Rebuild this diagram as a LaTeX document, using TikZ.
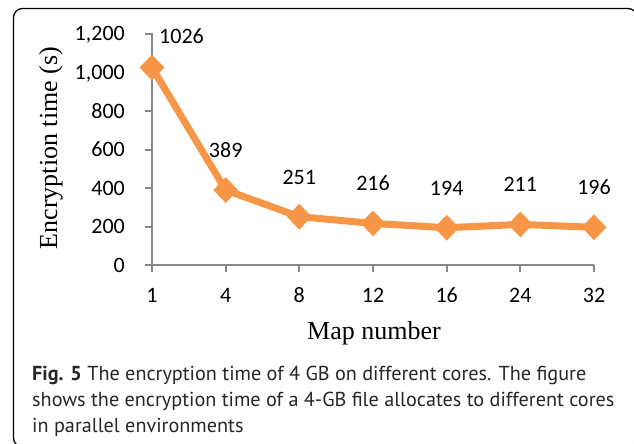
\documentclass[tikz,border=0pt]{standalone}
\usepackage{fontspec}
\setmainfont{Liberation Serif}
\newfontfamily\calib{Carlito}
\newfontfamily\capfont{PT Sans}
\usetikzlibrary{shapes.geometric}
\definecolor{serorange}{RGB}{247,150,70}
\definecolor{axgray}{RGB}{135,135,135}
\tikzset{
  axisline/.style={draw=axgray,line width=2pt},
  ticklab/.style={font=\calib\fontsize{22}{26}\selectfont,inner sep=0pt},
  datalab/.style={font=\calib\fontsize{22}{26}\selectfont,inner sep=0pt,anchor=base},
  axtitle/.style={font=\fontsize{26}{30}\selectfont,inner sep=0pt},
  mk/.style={diamond,fill=serorange,inner sep=0pt,minimum width=25pt,minimum height=26pt},
  series/.style={draw=serorange,line width=7pt,line join=round},
  caplab/.style={font=\capfont\fontsize{20.2}{24}\selectfont,inner sep=0pt,anchor=base west,text=black!85},
  frame/.style={draw=black,line width=1.3pt,rounded corners=9pt}
}
\begin{document}
\begin{tikzpicture}[x=1pt,y=-1pt]
\useasboundingbox (0,0) rectangle (634,444);
\begin{scope}
\clip (0,0) rectangle (634,444);
\draw[frame] (13.5,8.5) rectangle (637,447);
\end{scope}
% axes
\coordinate (o) at (152,265);
\coordinate (ytop) at (152,33);
\coordinate (xend) at (594,265);
\draw[axisline] (ytop) -- (o) -- (xend);
% y ticks and labels
\foreach \v/\yy/\t in {0/265/0,200/226.5/200,400/188/400,600/149.5/600,800/111/800,1000/72.5/{1,000},1200/34/{1,200}}{
  \draw[axisline] (145,\yy) -- (152,\yy);
  \node[ticklab,anchor=base east] (yl\v) at (125,\yy+7) {\t};
}
% x ticks and labels
\foreach \i/\xx/\t in {0/152/1,1/225.7/4,2/299.3/8,3/373/12,4/446.7/16,5/520.3/24,6/594/32}{
  \draw[axisline] (\xx,265) -- (\xx,272);
  \node[ticklab,anchor=base] (xl\i) at (\xx,302) {\t};
}
% data
\coordinate (c0) at (152,67.5);
\coordinate (c1) at (225.7,190.1);
\coordinate (c2) at (299.3,216.7);
\coordinate (c3) at (373,223.4);
\coordinate (c4) at (446.7,227.7);
\coordinate (c5) at (520.3,224.4);
\coordinate (c6) at (594,227.3);
\draw[series] (c0) -- (c1) -- (c2) -- (c3) -- (c4) -- (c5) -- (c6);
\foreach \k in {0,...,6}{\node[mk] (m\k) at (c\k) {};}
% data labels
\node[datalab] (d0) at (181.5,43.5) {1026};
\node[datalab] (d1) at (225.7,157.6) {389};
\node[datalab] (d2) at (299.3,184.2) {251};
\node[datalab] (d3) at (373,190.9) {216};
\node[datalab] (d4) at (446.7,195.2) {194};
\node[datalab] (d5) at (520.3,191.9) {211};
\node[datalab] (d6) at (594,194.8) {196};
% axis titles
\node[axtitle,rotate=90] (ytitle) at (51,148) {Encryption time (s)};
\node[axtitle,anchor=base] (xtitle) at (374,339) {Map number};
% caption
\node[caplab] (cap1) at (32,380) {\textbf{Fig. 5} The encryption time of 4 GB on different cores. The figure};
\node[caplab] (cap2) at (32,406) {shows the encryption time of a 4-GB file allocates to different cores};
\node[caplab] (cap3) at (32,432) {in parallel environments};
\end{tikzpicture}
\end{document}
